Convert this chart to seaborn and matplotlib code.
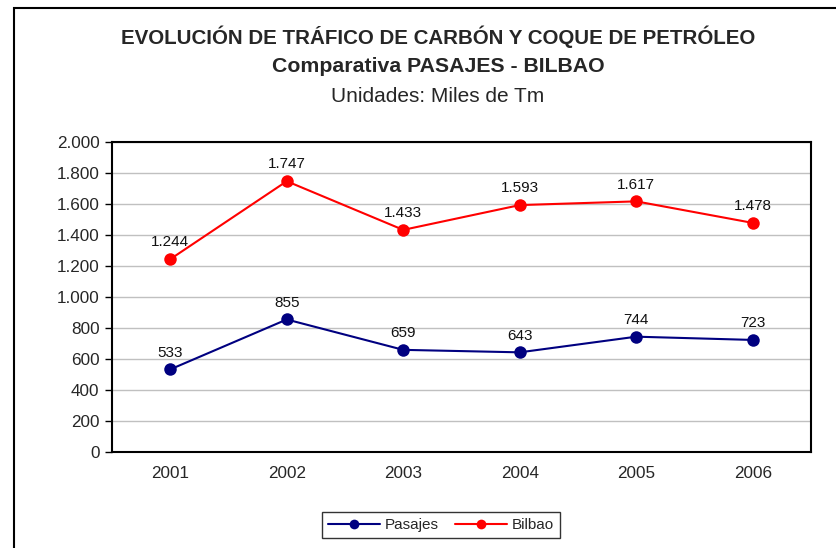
import numpy as np
import pandas as pd
import matplotlib
matplotlib.use("Agg")
import matplotlib.pyplot as plt
from matplotlib.patches import Rectangle
from matplotlib.lines import Line2D
import seaborn as sns

## data
years = ["2001", "2002", "2003", "2004", "2005", "2006"]
pasajes = [533, 855, 659, 643, 744, 723]
bilbao = [1244, 1747, 1433, 1593, 1617, 1478]
yticks = [0, 200, 400, 600, 800, 1000, 1200, 1400, 1600, 1800, 2000]


def miles(v):
    return f"{v:,}".replace(",", ".")


df = pd.DataFrame({
    "pos": list(range(len(years))) * 2,
    "valor": pasajes + bilbao,
    "serie": ["Pasajes"] * len(years) + ["Bilbao"] * len(years),
})

sns.set_theme(style="white")
plt.rcParams["font.family"] = ["Liberation Sans", "DejaVu Sans"]

fig = plt.figure(figsize=(8.37, 5.48), dpi=100)
ax = fig.add_axes([112 / 837, 1 - 452 / 548, (811 - 112) / 837, (452 - 142) / 548])

colores = {"Pasajes": "#000080", "Bilbao": "#ff0000"}
sns.lineplot(data=df, x="pos", y="valor", hue="serie", palette=colores,
             marker="o", markersize=9, markeredgewidth=0, linewidth=1.5,
             legend=False, ax=ax)

## labels over the points
for serie, vals in [("Pasajes", pasajes), ("Bilbao", bilbao)]:
    for i, v in enumerate(vals):
        ax.annotate(miles(v), (i, v), xytext=(0, 7), textcoords="offset points",
                    ha="center", va="bottom", fontsize=11, color="#111111")

ax.set_xlim(-0.5, len(years) - 0.5)
ax.set_ylim(0, 2000)
ax.set_yticks(yticks)
ax.set_yticklabels([miles(v) for v in yticks], fontsize=12.3)
ax.set_xticks(range(len(years)))
ax.set_xticklabels(years, fontsize=12.3)
ax.set_xticks(np.arange(-0.5, len(years)), minor=True)
ax.tick_params(axis="x", which="major", length=0, pad=10)
ax.tick_params(axis="x", which="minor", length=5, width=1, color="black", direction="out")
ax.tick_params(axis="y", length=5, width=1, color="black", direction="out", left=True, pad=4)
ax.grid(axis="y", color="#c0c0c0", linewidth=1)
ax.set_axisbelow(True)
ax.set_xlabel("")
ax.set_ylabel("")
for s in ax.spines.values():
    s.set_color("black")
    s.set_linewidth(1.5)

## titles
fig.text(438 / 837, 1 - 37 / 548, "EVOLUCIÓN DE TRÁFICO DE CARBÓN Y COQUE DE PETRÓLEO",
         ha="center", va="center", fontsize=14.8, fontweight="bold")
fig.text(438 / 837, 1 - 66 / 548, "Comparativa PASAJES - BILBAO",
         ha="center", va="center", fontsize=15.3, fontweight="bold")
fig.text(438 / 837, 1 - 97 / 548, "Unidades: Miles de Tm",
         ha="center", va="center", fontsize=15)

## legend
handles = [Line2D([], [], color=colores[k], marker="o", markersize=7, linewidth=1.5,
                  markeredgewidth=0) for k in ["Pasajes", "Bilbao"]]
leg = fig.legend(handles, ["Pasajes", "Bilbao"], loc="center", ncol=2,
                 bbox_to_anchor=(441 / 837, 1 - 525 / 548), frameon=True,
                 fancybox=False, fontsize=11, handlelength=3.4, columnspacing=1.1,
                 handletextpad=0.3, borderpad=0.4)
leg.get_frame().set_edgecolor("black")
leg.get_frame().set_linewidth(1)

## outer chart border
fig.patches.append(Rectangle((14 / 837, -0.1), 1.0, 1.1 - 8 / 548, transform=fig.transFigure,
                             fill=False, edgecolor="black", linewidth=1.5, clip_on=False))

fig.savefig("out.png", dpi=100, facecolor="white")
